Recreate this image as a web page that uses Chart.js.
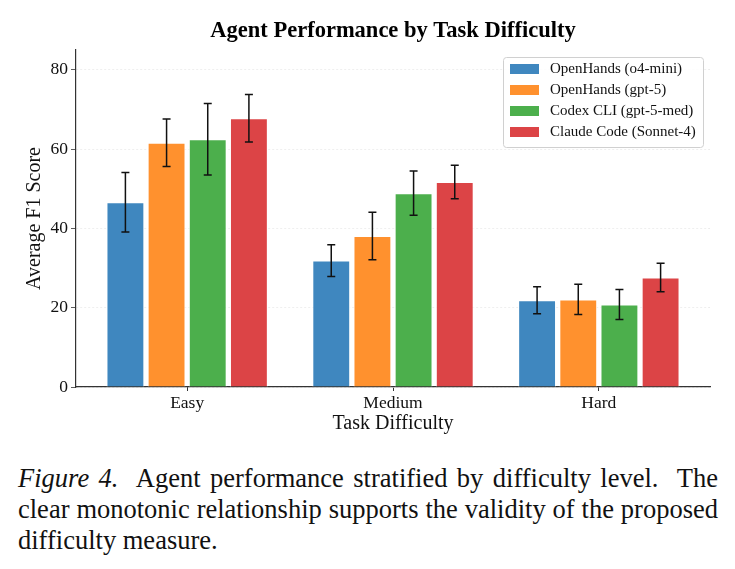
<!DOCTYPE html>
<html>
<head>
<meta charset="utf-8">
<script src="https://cdn.jsdelivr.net/npm/chart.js@4/dist/chart.umd.min.js"></script>
<style>
  body { margin: 0; background: #fff; }
  #wrap { position: relative; width: 735px; height: 569px; }
  #chart { position: absolute; left: 0; top: 0; }
  .caption { position: absolute; left: 18px; width: 700px; top: 463px;
    font-family: "Liberation Serif", serif; font-size: 26.5px; line-height: 31px; color: #111; }
  .caption div { text-align: justify; text-align-last: justify; white-space: nowrap; }
  .caption div.last { text-align-last: left; }
</style>
</head>
<body>
<div id="wrap">
  <canvas id="chart" width="735" height="450"></canvas>
  <div class="caption">
    <div><i>Figure 4.</i>&nbsp; Agent performance stratified by difficulty level.&nbsp; The</div>
    <div>clear monotonic relationship supports the validity of the proposed</div>
    <div class="last">difficulty measure.</div>
  </div>
</div>
<script>
const categories = ['Easy', 'Medium', 'Hard'];
const agents = ['OpenHands (o4-mini)', 'OpenHands (gpt-5)', 'Codex CLI (gpt-5-med)', 'Claude Code (Sonnet-4)'];
const colors = ['#3f87bf', '#ff912e', '#4caf4c', '#dc4446'];

// mean F1 per agent, per difficulty
const o4mini = [46.6, 31.9, 21.9];
const gpt5 = [61.6, 38.1, 22.1];
const codex = [62.5, 48.9, 20.8];
const claude = [67.8, 51.7, 27.6];

// half-width of error bars
const o4miniErr = [7.5, 4.0, 3.4];
const gpt5Err = [6.0, 6.0, 3.8];
const codexErr = [9.0, 5.6, 3.8];
const claudeErr = [6.0, 4.2, 3.6];

const yTicks = [0, 20, 40, 60, 80];

const series = [o4mini, gpt5, codex, claude];
const errs = [o4miniErr, gpt5Err, codexErr, claudeErr];
const serif = '"Liberation Serif", "Times New Roman", serif';

const errorBars = {
  id: 'errorBars',
  afterDatasetsDraw(chart) {
    const ctx = chart.ctx;
    const y = chart.scales.y;
    ctx.save();
    ctx.strokeStyle = '#111';
    ctx.lineWidth = 1.5;
    chart.data.datasets.forEach((ds, i) => {
      const meta = chart.getDatasetMeta(i);
      meta.data.forEach((bar, j) => {
        const v = series[i][j], e = errs[i][j];
        const top = y.getPixelForValue(v + e);
        const bot = y.getPixelForValue(v - e);
        const x = bar.x;
        ctx.beginPath();
        ctx.moveTo(x, top); ctx.lineTo(x, bot);
        ctx.moveTo(x - 4, top); ctx.lineTo(x + 4, top);
        ctx.moveTo(x - 4, bot); ctx.lineTo(x + 4, bot);
        ctx.stroke();
      });
    });
    ctx.restore();
  }
};

const titleAndLegend = {
  id: 'titleAndLegend',
  afterDraw(chart) {
    const ctx = chart.ctx;
    const a = chart.chartArea;
    ctx.save();
    ctx.fillStyle = '#000';
    ctx.font = 'bold 22.5px ' + serif;
    ctx.textAlign = 'center';
    ctx.textBaseline = 'middle';
    ctx.fillText('Agent Performance by Task Difficulty', (a.left + a.right) / 2, 31);

    // legend box in the upper right of the axes
    const bx = a.right - 207, by = a.top + 7, bw = 200, bh = 90;
    ctx.fillStyle = 'rgba(255,255,255,0.85)';
    ctx.strokeStyle = '#d0d0d0';
    ctx.lineWidth = 1;
    ctx.beginPath();
    ctx.roundRect(bx + 0.5, by + 0.5, bw, bh, 3);
    ctx.fill();
    ctx.stroke();
    ctx.font = '15px ' + serif;
    ctx.textAlign = 'left';
    chart.data.datasets.forEach((ds, i) => {
      const ry = by + 12 + i * 21;
      ctx.fillStyle = ds.backgroundColor;
      ctx.fillRect(bx + 7, ry - 5, 29, 10);
      ctx.fillStyle = '#111';
      ctx.fillText(ds.label, bx + 47, ry);
    });
    ctx.restore();
  }
};

new Chart(document.getElementById('chart'), {
  type: 'bar',
  data: {
    datasets: agents.map((name, i) => ({
      label: name,
      data: series[i].map((v, j) => ({ x: j, y: v })),
      backgroundColor: colors[i],
      borderColor: '#ffffff',
      borderWidth: 1,
      categoryPercentage: 0.8,
      barPercentage: 0.92
    }))
  },
  options: {
    responsive: false,
    animation: false,
    layout: { padding: { top: 50, right: 25, left: 0, bottom: 0 } },
    plugins: {
      legend: { display: false },
      title: { display: false },
      tooltip: { enabled: false }
    },
    scales: {
      x: {
        type: 'linear',
        min: -0.54,
        max: 2.54,
        offset: false,
        afterBuildTicks(s) { s.ticks = categories.map((c, j) => ({ value: j })); },
        grid: { display: true, offset: false, drawOnChartArea: false, tickLength: 4, tickColor: '#333' },
        border: { color: '#333', width: 1.2 },
        ticks: { color: '#111', font: { family: serif, size: 17.5 }, padding: 2,
          callback: v => categories[v] },
        title: { display: true, text: 'Task Difficulty', color: '#111', font: { family: serif, size: 20 }, padding: { top: 0, bottom: 14 } },
        afterFit(s) { s.height = 63; }
      },
      y: {
        min: 0,
        max: 85,
        afterBuildTicks(s) { s.ticks = yTicks.map(v => ({ value: v })); },
        grid: { color: '#ebebeb', lineWidth: 0.8, tickLength: 5, tickColor: '#333' },
        border: { color: '#333', width: 1.2, dash: [2, 2] },
        ticks: { color: '#111', font: { family: serif, size: 17.5 }, padding: 3 },
        title: { display: true, text: 'Average F1 Score', color: '#111', font: { family: serif, size: 20 }, padding: { top: 23, bottom: 0 } },
        afterFit(s) { s.width = 76; }
      }
    }
  },
  plugins: [errorBars, titleAndLegend]
});
</script>
</body>
</html>
